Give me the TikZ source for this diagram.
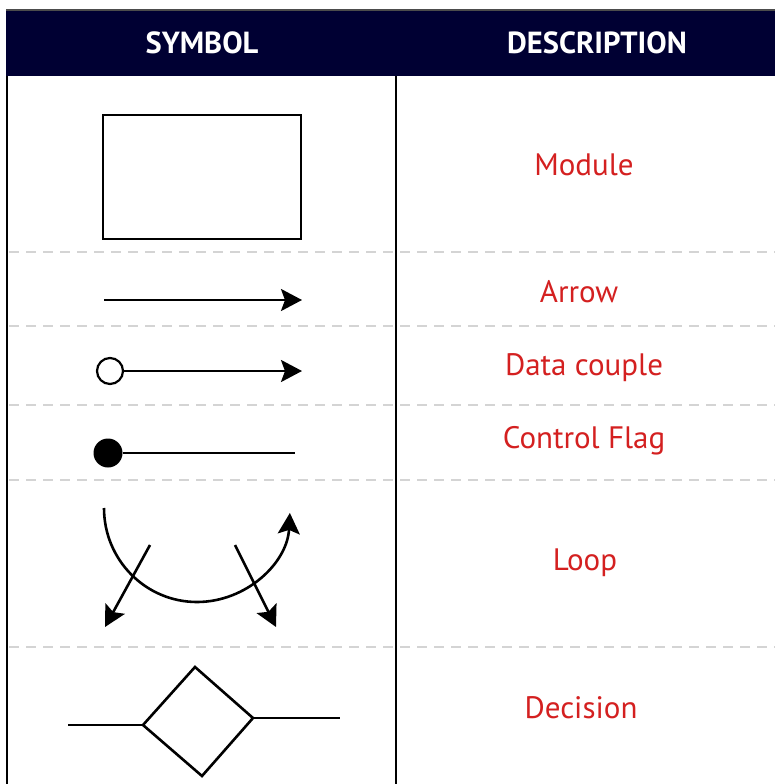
\documentclass[tikz,border=0pt]{standalone}
\usepackage{fontspec}
\setmainfont{PT Sans}
\usetikzlibrary{arrows.meta}
\definecolor{navy}{HTML}{000033}
\definecolor{descred}{HTML}{D42020}
\definecolor{sepgray}{HTML}{D4D4D4}
\begin{document}
\begin{tikzpicture}[x=1pt,y=-1pt,
  sym/.style={line width=2.6pt, line join=miter},
  tip/.style={-{Stealth[length=21pt,width=22pt,inset=4pt]}},
  desc/.style={text=descred, font=\fontsize{31}{34}\selectfont, anchor=center, inner sep=0},
  head/.style={text=white, font=\fontsize{30.5}{33}\selectfont\bfseries, anchor=center, inner sep=0},
  sep/.style={sepgray, line width=1.3pt, dash pattern=on 10pt off 7pt}]
\useasboundingbox (0,0) rectangle (775,784);
\fill[white] (0,0) rectangle (775,784);
% header
\fill[navy] (6,10) rectangle (775,76);
\draw[line width=1.2pt, gray!60!black] (6,10) -- (775,10);
\node[head] (hs) at (202,43) {SYMBOL};
\node[head] (hd) at (597,43) {DESCRIPTION};
% borders
\draw[line width=2pt] (7,76) -- (7,784);
\draw[line width=2pt] (396,76) -- (396,784);
% separators
\foreach \yy in {252,326,405,480,647} \draw[sep] (9,\yy) -- (775,\yy);
% module
\node[draw, sym, minimum width=198pt, minimum height=124pt, inner sep=0] (mod) at (202,177) {};
\node[desc] (dmod) at (584,165) {Module};
% arrow
\coordinate (a1) at (104,300);
\coordinate (a2) at (302,300);
\draw[sym, tip] (a1) -- (a2);
\node[desc] (darr) at (579,292) {Arrow};
% data couple
\node[circle, draw, line width=2.2pt, fill=white, minimum size=26pt, inner sep=0] (dc) at (110,371) {};
\coordinate (dc2) at (302,371);
\draw[sym, tip] (dc) -- (dc2);
\node[desc] (ddc) at (584,368) {Data couple};
% control flag
\node[circle, fill=black, minimum size=29pt, inner sep=0] (cf) at (108,453) {};
\coordinate (cf2) at (295,453);
\draw[sym] (cf) -- (cf2);
\node[desc] (dcf) at (584,441) {Control Flag};
% loop
\coordinate (l1) at (104,508);
\draw[sym, tip] (l1) arc[start angle=180, end angle=357, x radius=93pt, y radius=94pt];
\coordinate (la) at (150,545);
\coordinate (lb) at (105,627);
\coordinate (lc) at (235,545);
\coordinate (ld) at (276,627);
\draw[sym, tip] (la) -- (lb);
\draw[sym, tip] (lc) -- (ld);
\node[desc] (dloop) at (585,563) {Loop};
% decision
\coordinate (dl) at (143,725);
\coordinate (dt) at (195,667);
\coordinate (dr) at (253,718);
\coordinate (db) at (202,776);
\coordinate (el) at (68,725);
\coordinate (er) at (340,718);
\draw[sym] (dl) -- (dt) -- (dr) -- (db) -- cycle;
\draw[sym] (el) -- (dl);
\draw[sym] (dr) -- (er);
\node[desc] (ddec) at (581,708) {Decision};
\end{tikzpicture}
\end{document}
